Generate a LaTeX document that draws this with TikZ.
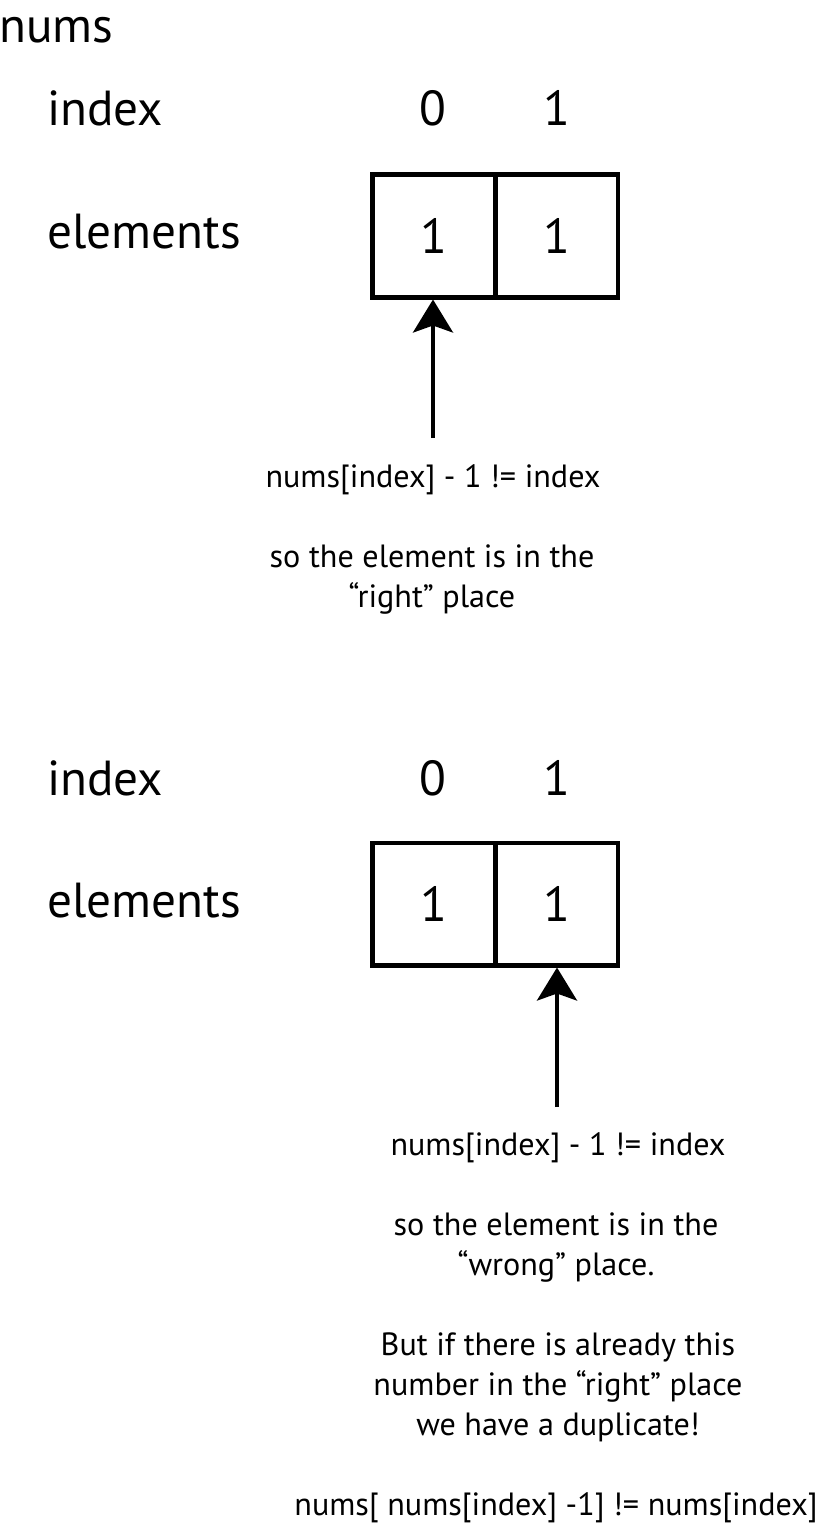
\documentclass[tikz,border=0pt]{standalone}
\usepackage{fontspec}
\setmainfont{PT Sans}
\usetikzlibrary{arrows.meta, positioning}
\newcommand{\bigfont}{\fontsize{28}{33}\selectfont}
\newcommand{\notefont}{\fontsize{18.3}{22.7}\selectfont}

\begin{document}
\begin{tikzpicture}[
  x=0.02cm, y=-0.02cm,
  cell/.style={rectangle, draw, line width=2.3pt, minimum width=2.46cm, minimum height=2.46cm, inner sep=0pt, font=\bigfont},
  label/.style={anchor=base west, inner sep=0pt, font=\bigfont},
  idx/.style={anchor=base, inner sep=0pt, font=\bigfont},
  note/.style={anchor=base, align=center, inner sep=0pt, font=\notefont},
  arrow/.style={-{Stealth[length=0.66cm, width=0.8cm, inset=0.14cm]}, line width=2.3pt}
]
  \useasboundingbox (0,0) rectangle (822,1526);

  \node[label] (title) at (-1,42) {nums};

  % first array: element in the right place
  \node[label] (index1) at (47,125) {index};
  \node[idx] (i10) at (433,125) {0};
  \node[idx] (i11) at (557,125) {1};
  \node[label] (elem1) at (47,248) {elements};
  \node[cell] (c10) at (434,236) {1};
  \node[cell, right=0pt of c10.east, anchor=west, xshift=-2.3pt] (c11) {1};
  \coordinate (p1) at (433,438);
  \draw[arrow] (p1) -- (p1 |- c10.south);
  \node[note] (n1) at (433,487) {nums[index] - 1 != index};
  \node[note] (n2) at (432,607) {so the element is in the\\``right'' place};

  % second array: element in the wrong place
  \node[label] (index2) at (47,795) {index};
  \node[idx] (i20) at (433,795) {0};
  \node[idx] (i21) at (557,795) {1};
  \node[label] (elem2) at (47,917) {elements};
  \node[cell] (c20) at (434,904) {1};
  \node[cell, right=0pt of c20.east, anchor=west, xshift=-2.3pt] (c21) {1};
  \coordinate (p2) at (557,1107);
  \draw[arrow] (p2) -- (p2 |- c21.south);
  \node[note] (n3) at (558,1155) {nums[index] - 1 != index};
  \node[note] (n4) at (556,1275) {so the element is in the\\``wrong'' place.};
  \node[note] (n5) at (558,1435) {But if there is already this\\number in the ``right'' place\\we have a duplicate!};
  \node[note] (n6) at (556,1515) {nums[ nums[index] -1] != nums[index]};
\end{tikzpicture}
\end{document}
